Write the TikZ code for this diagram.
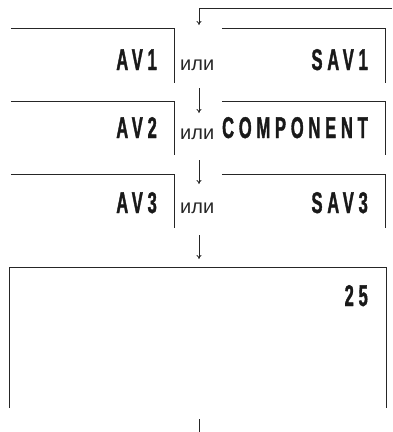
\documentclass[tikz,border=0pt]{standalone}
\usepackage{fontspec}
\setmainfont{Liberation Sans}
\newfontfamily\condfont{Liberation Sans Bold}[FakeStretch=0.55,LetterSpace=16,FakeBold=1.2]
\usetikzlibrary{arrows.meta}
\begin{document}
\begin{tikzpicture}[x=1pt,y=-1pt,
  boxline/.style={line width=1.2pt,black!85},
  conn/.style={line width=0.8pt,black!85,-{To[length=4pt,width=5pt]}},
  plainline/.style={line width=0.8pt,black!85},
  lbl/.style={font=\condfont\fontsize{30}{30}\selectfont,inner sep=0pt,anchor=base east,text=black!90},
  ili/.style={font=\fontsize{20}{20}\selectfont,inner sep=0pt,anchor=base west,text=black!85},
  frame/.style={inner sep=0pt,draw=none}]
\useasboundingbox (0,0) rectangle (392,432);
% row boxes (invisible frames)
\node[frame,minimum width=163pt,minimum height=54pt] (l1) at (92.5,56) {};
\node[frame,minimum width=163pt,minimum height=54pt] (r1) at (303.5,56) {};
\node[frame,minimum width=163pt,minimum height=53pt] (l2) at (92.5,128.5) {};
\node[frame,minimum width=163pt,minimum height=53pt] (r2) at (303.5,128.5) {};
\node[frame,minimum width=163pt,minimum height=53pt] (l3) at (92.5,201.5) {};
\node[frame,minimum width=163pt,minimum height=53pt] (r3) at (303.5,201.5) {};
\node[frame,minimum width=376pt,minimum height=140pt] (big) at (198,338) {};
\foreach \b in {l1,r1,l2,r2,l3,r3}{
  \draw[boxline] (\b.north west) -- (\b.north east) -- (\b.south east);
}
\draw[boxline] (big.south west) -- (big.north west) -- (big.north east) -- (big.south east);
% labels
\node[lbl] (t1) at (157,70) {AV1};
\node[lbl] (s1) at (368,70) {SAV1};
\node[lbl] (t2) at (157,138) {AV2};
\node[lbl] (s2) at (368,138) {COMPONENT};
\node[lbl] (t3) at (157,213) {AV3};
\node[lbl] (s3) at (368,213) {SAV3};
\node[lbl] (n25) at (368,306) {25};
\node[ili] (o1) at (180,70.5) {или};
\node[ili] (o2) at (180,139.5) {или};
\node[ili] (o3) at (180,213) {или};
% connectors
\coordinate (fbstart) at (392,8);
\coordinate (fbturn) at (199,8);
\coordinate (fbend) at (199,25);
\coordinate (a1s) at (199,88);
\coordinate (a1e) at (199,113);
\coordinate (a2s) at (199,160);
\coordinate (a2e) at (199,184);
\coordinate (a3s) at (199,235);
\coordinate (a3e) at (199,259);
\coordinate (bs) at (199,419);
\coordinate (be) at (199,432);
\draw[conn] (fbstart) -- (fbturn) -- (fbend);
\draw[conn] (a1s) -- (a1e);
\draw[conn] (a2s) -- (a2e);
\draw[conn] (a3s) -- (a3e);
\draw[plainline] (bs) -- (be);
\end{tikzpicture}
\end{document}
